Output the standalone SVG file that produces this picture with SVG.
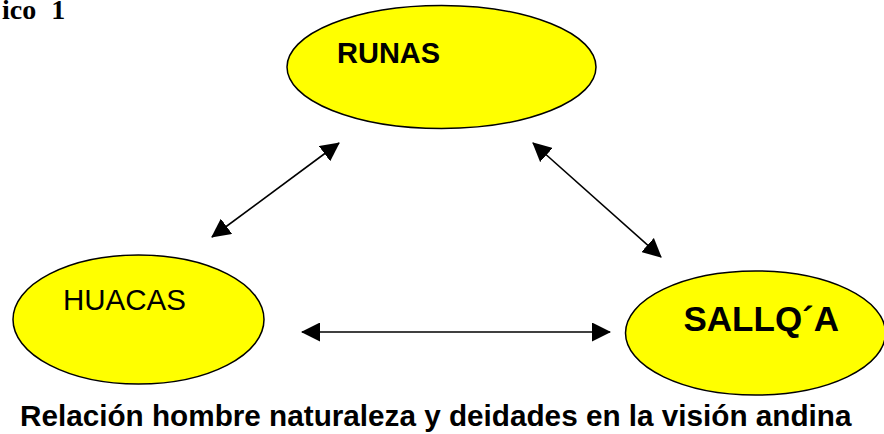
<svg xmlns="http://www.w3.org/2000/svg" width="884" height="434" viewBox="0 0 884 434">
<style>
.node ellipse { fill: #FFFF00; stroke: #000; stroke-width: 1.5; }
.lbl { font-family: "Liberation Sans", Arial, sans-serif; fill: #000; }
.b { font-weight: bold; }
.conn line { stroke: #000; stroke-width: 1.6; fill: none; marker-start: url(#ah); marker-end: url(#ah); }
</style>
<defs>
<marker id="ah" viewBox="0 0 19 19" refX="18" refY="9.5" markerWidth="19" markerHeight="19" markerUnits="userSpaceOnUse" orient="auto-start-reverse">
<path d="M0,0 L19,9.5 L0,19 z" fill="#000"/>
</marker>
</defs>
<rect width="884" height="434" fill="#fff"/>
<text x="2" y="19" font-family="Liberation Serif, 'Times New Roman', serif" font-weight="bold" font-size="28" word-spacing="8" fill="#000">ico 1</text>
<g id="runas" class="node">
<ellipse cx="441.5" cy="67" rx="154.5" ry="61.5"/>
<text class="lbl b" x="337" y="63" font-size="29">RUNAS</text>
</g>
<g id="huacas" class="node">
<ellipse cx="138.5" cy="319.5" rx="125.5" ry="64.5"/>
<text class="lbl" x="63" y="310" font-size="29.5">HUACAS</text>
</g>
<g id="sallqa" class="node">
<ellipse cx="755.5" cy="333" rx="130" ry="62"/>
<text class="lbl b" x="683.5" y="331" font-size="35">SALLQ´A</text>
</g>
<g id="connectors" class="conn">
<line x1="339" y1="143" x2="212" y2="237"/>
<line x1="533" y1="143" x2="661" y2="257"/>
<line x1="302" y1="332" x2="610" y2="332"/>
</g>
<text class="lbl b" x="20" y="426" font-size="29.7">Relación hombre naturaleza y deidades en la visión andina</text>
</svg>
